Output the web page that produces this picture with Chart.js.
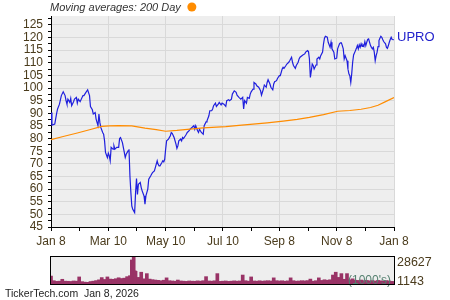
<!DOCTYPE html>
<html>
<head>
<meta charset="utf-8">
<script src="https://cdn.jsdelivr.net/npm/chart.js@4"></script>
<style>
html,body{margin:0;padding:0;background:#fff;}
#wrap{position:relative;width:450px;height:300px;}
canvas{position:absolute;left:0;top:0;}
</style>
</head>
<body>
<div id="wrap">
<canvas id="main" width="450" height="300"></canvas>
<canvas id="vol" width="450" height="300"></canvas>
</div>
<script>
// ---- data (x = days since Jan 8, 2025) ----
const priceDays = [0,1,4,6,7,9,11,13,15,16,17,18,20,21,22,24,25,27,28,29,31,34,35,37,39,41,42,44,45,47,48,50,51,52,53,55,56,57,58,60,61,62,63,64,66,67,68,70,72,73,74,76,78,79,80,82,83,84,85,86,87,89,90,91,92,93,95,96,97,99,100,101,103,104,106,107,108,110,111,113,114,115,116,118,119,120,121,122,123,125,127,128,129,131,133,134,135,136,138,139,140,141,143,144,145,147,148,150,152,153,154,156,157,158,160,162,163,165,166,168,169,171,172,173,175,176,178,179,181,182,184,186,187,189,190,192,193,195,197,198,200,202,204,205,206,208,209,211,212,213,215,216,218,219,221,223,224,226,227,229,230,231,233,234,236,237,238,240,241,243,244,246,247,248,250,251,253,254,256,257,258,260,261,263,264,265,267,268,270,271,273,274,275,276,277,278,279,280,282,283,285,286,287,289,290,291,292,294,295,297,298,299,301,302,304,305,307,308,309,310,311,312,313,314,315,316,317,318,319,320,321,322,324,325,326,327,328,329,330,331,332,333,334,335,336,337,338,340,341,342,343,344,345,346,347,348,349,350,351,352,353,354,356,357,358,359,360,361,362,363,365];
const priceValues = [90.3,85.3,85.7,90.0,91.7,93.6,97.0,98.5,97.0,95.0,93.6,95.6,94.3,95.9,93.0,94.6,95.6,96.3,94.0,95.6,94.6,97.0,97.0,98.2,99.3,97.0,92.7,91.4,89.7,90.3,87.7,85.1,89.7,86.4,84.4,82.4,81.7,79.1,74.5,72.5,74.2,73.2,71.2,76.5,75.8,77.1,75.8,76.5,76.5,80.0,80.4,78.4,74.5,72.5,73.8,75.1,75.8,65.2,58.6,53.3,52.0,50.7,58.6,64.2,57.9,61.9,62.6,60.6,59.3,57.3,54.0,57.3,60.0,63.9,65.2,65.9,66.5,67.2,68.5,71.2,69.8,69.2,69.2,70.5,71.2,70.8,71.8,75.8,79.1,79.8,81.1,82.4,82.1,80.4,77.8,76.1,77.1,79.1,79.8,79.1,80.4,80.0,81.1,81.7,82.4,83.1,83.7,84.4,85.1,83.7,85.1,83.1,82.4,83.7,82.4,81.7,85.1,86.6,87.0,89.0,91.0,91.0,91.7,93.0,94.0,92.7,93.6,94.3,93.3,94.0,93.6,92.7,95.0,95.4,95.0,95.6,97.6,98.9,98.3,97.2,96.3,95.6,96.3,91.7,95.0,94.0,96.3,95.9,97.6,98.5,99.6,102.2,101.6,100.9,100.3,98.9,97.2,99.6,101.2,100.3,102.2,103.3,101.6,100.3,99.3,101.6,102.5,102.9,103.8,104.9,104.9,107.5,108.2,107.8,108.9,109.5,110.2,110.8,112.2,110.2,108.9,107.8,108.9,110.2,111.5,112.2,112.8,113.1,113.5,114.2,114.8,114.4,111.5,104.2,106.8,109.5,108.9,107.5,109.1,111.5,112.2,111.5,112.8,114.2,117.5,119.7,120.5,120.1,118.1,116.1,118.1,115.5,114.2,111.5,111.8,115.5,117.5,117.9,117.9,116.8,115.5,111.5,112.8,111.8,110.8,107.5,105.6,104.9,102.2,105.6,110.2,113.1,114.8,115.7,116.8,115.5,117.1,116.1,117.5,116.5,117.1,116.5,118.4,116.8,118.1,119.2,119.4,116.8,116.1,115.5,116.1,114.2,110.8,112.8,114.2,116.4,118.8,119.7,120.5,120.1,119.2,118.4,117.5,116.1,115.7,116.8,118.1,119.2,120.1,119.2,119.1];

const maDays = [0,14,28,42,54,62,72,86,100,112,122,134,148,162,176,186,200,215,230,247,262,275,290,305,318,330,340,348,356,365];
const maValues = [79.6,80.9,82.2,83.6,84.8,85.0,85.1,85.0,84.1,83.5,82.9,83.2,83.7,84.2,84.5,84.7,85.2,85.7,86.2,86.9,87.6,88.4,89.5,90.8,91.1,91.6,92.3,93.2,94.6,96.2];

const volDays = [0,3,6,9,12,15,18,21,24,27,30,33,36,39,42,45,48,51,54,57,60,63,66,69,72,75,78,81,84,86,87,88,89,90,93,96,99,102,105,108,111,114,117,120,123,126,129,132,135,138,141,144,147,150,153,156,159,162,165,168,171,174,177,180,183,186,189,192,195,198,201,204,207,210,213,216,219,222,225,228,231,234,237,240,243,246,249,252,255,258,261,264,267,270,273,276,279,282,285,288,291,294,297,300,303,306,309,312,315,318,321,324,327,330,333,336,339,342,345,348,351,354,357,360,363,365];
const volValues = [8500,3500,2800,3000,5000,3000,2900,2700,3200,3000,7500,2500,2000,1800,2600,3000,3600,4400,6800,4800,7500,5200,5000,5600,6600,5800,6200,7800,8800,25500,21000,28627,14000,13500,7000,12500,5500,11000,5200,4600,4200,3900,3500,4000,6500,3500,3200,3000,4200,3200,3000,2800,3200,3000,2900,3300,3000,3500,7800,3200,3000,3400,11000,2800,3000,3200,2800,3000,3300,3000,3200,9500,3500,3000,7500,3200,3000,3400,3000,3300,3500,3200,6500,3500,3200,3400,3000,3300,6500,3500,3000,3200,3500,3300,3600,5200,3000,3500,6500,3800,4500,4000,4500,9500,12500,7000,11000,5000,11000,4500,5500,4000,3800,4200,3600,3800,3400,3600,3200,3800,3400,3000,3600,3200,2800,1143];

const xTickDays = [0,61,122,183,243,304,365];
const xTickLabels = ['Jan 8','Mar 10','May 10','Jul 10','Sep 8','Nov 8','Jan 8'];
const yTickLabels = [45,50,55,60,65,70,75,80,85,90,95,100,105,110,115,120,125];
const volMaxLabel = '28627';
const volLastLabel = '1143';
const seriesName = 'UPRO';
const titleText = 'Moving averages: 200 Day';
const footerText = 'TickerTech.com  Jan 8, 2026';

// ---- helpers ----
const FONT = "'Liberation Sans', Arial, sans-serif";
const TXT = '#4a3b1c';
const GRID = '#d9d9d9';
const xMinor = xTickDays.slice(0,-1).map((d,i)=>(d+xTickDays[i+1])/2);
const xAll = xTickDays.concat(xMinor).sort((a,b)=>a-b);
const yMinor = yTickLabels.map(v=>v+2.5);
const yAll = yTickLabels.concat(yMinor).sort((a,b)=>a-b);
const isMajorX = v => xTickDays.includes(v);
const isMajorY = v => yTickLabels.includes(v);

const bgPlugin = {
  id:'bg',
  beforeDraw(chart){
    const a = chart.chartArea, c = chart.ctx;
    c.save(); c.fillStyle = '#eeeeee';
    c.fillRect(a.left, a.top, a.right-a.left, a.bottom-a.top);
    c.restore();
  }
};

const textPlugin = {
  id:'txt',
  afterDraw(chart){
    const c = chart.ctx, a = chart.chartArea;
    c.save();
    c.font = "italic 11px " + FONT;
    c.fillStyle = '#333';
    c.textBaseline = 'middle';
    c.textAlign = 'left';
    c.fillText(titleText, 50, 7.5);
    const w = c.measureText(titleText).width;
    c.beginPath();
    c.fillStyle = '#ff8c00';
    c.arc(50 + w + 11, 7, 4.5, 0, Math.PI*2);
    c.fill();
    const ys = chart.scales.y;
    c.font = "13px " + FONT;
    c.fillStyle = '#2222cc';
    c.fillText(seriesName, a.right + 3, ys.getPixelForValue(priceValues[priceValues.length-1]) - 2);
    c.font = "10.5px " + FONT;
    c.fillStyle = '#222';
    c.fillText(footerText, 5, 294);
    c.restore();
  }
};

new Chart(document.getElementById('main'), {
  type:'line',
  data:{
    datasets:[
      { data: maDays.map((d,i)=>({x:d,y:maValues[i]})), borderColor:'#ff8c00', borderWidth:1.2, pointRadius:0, fill:false, tension:0 },
      { data: priceDays.map((d,i)=>({x:d,y:priceValues[i]})), borderColor:'#1f1fdd', borderWidth:1.2, pointRadius:0, fill:false, tension:0 }
    ]
  },
  options:{
    responsive:false, animation:false,
    layout:{ padding:{ left:0, top:16, right:56, bottom:51 } },
    plugins:{ legend:{display:false}, tooltip:{enabled:false} },
    scales:{
      x:{
        type:'linear', min:0, max:365,
        afterBuildTicks: s => { s.ticks = xAll.map(v=>({value:v})); },
        afterFit: s => { s.height = 22; },
        ticks:{ autoSkip:false, maxRotation:0, padding:3, color:TXT, font:{family:FONT,size:12},
          callback: v => { const i = xTickDays.indexOf(v); return i>=0 ? xTickLabels[i] : ''; } },
        grid:{ color: ctx => (ctx.tick && isMajorX(ctx.tick.value)) ? GRID : 'rgba(0,0,0,0)', tickColor:'#000', tickLength:4, lineWidth:1 },
        border:{ color:'#000', width:1 }
      },
      y:{
        type:'linear', min:45, max:128.5,
        afterBuildTicks: s => { s.ticks = yAll.map(v=>({value:v})); },
        afterFit: s => { s.width = 51; },
        ticks:{ autoSkip:false, padding:5, color:TXT, font:{family:FONT,size:12},
          callback: v => isMajorY(v) ? String(v) : '' },
        grid:{ color: ctx => (ctx.tick && isMajorY(ctx.tick.value)) ? GRID : 'rgba(0,0,0,0)', tickColor:'#000', tickLength:3, lineWidth:1 },
        border:{ color:'#000', width:1 }
      }
    }
  },
  plugins:[bgPlugin, textPlugin]
});

const volPlugin = {
  id:'volTxt',
  afterDraw(chart){
    const c = chart.ctx, a = chart.chartArea;
    c.save();
    c.font = "12px " + FONT;
    c.fillStyle = '#558070';
    c.textBaseline = 'middle';
    c.textAlign = 'left';
    c.fillText("(1000's)", 348, 281);
    c.strokeStyle = '#000'; c.lineWidth = 1;
    c.strokeRect(Math.round(a.left)-0.5, Math.round(a.top)-0.5, Math.round(a.right-a.left)+1, Math.round(a.bottom-a.top)+1);
    c.font = "12.5px " + FONT;
    c.fillStyle = TXT;
    c.fillText(volMaxLabel, a.right + 3, 263);
    c.fillText(volLastLabel, a.right + 3, 282);
    c.restore();
  }
};

new Chart(document.getElementById('vol'), {
  type:'bar',
  data:{
    datasets:[{ data: volDays.map((d,i)=>({x:d,y:volValues[i]})), backgroundColor:'#993366', borderWidth:0, barThickness:3 }]
  },
  options:{
    responsive:false, animation:false,
    layout:{ padding:{ left:51, top:257, right:56, bottom:16 } },
    plugins:{ legend:{display:false}, tooltip:{enabled:false} },
    scales:{
      x:{ type:'linear', min:0, max:365, display:false, offset:false },
      y:{ min:0, max:28627, display:false }
    }
  },
  plugins:[bgPlugin, volPlugin]
});
</script>
</body>
</html>
